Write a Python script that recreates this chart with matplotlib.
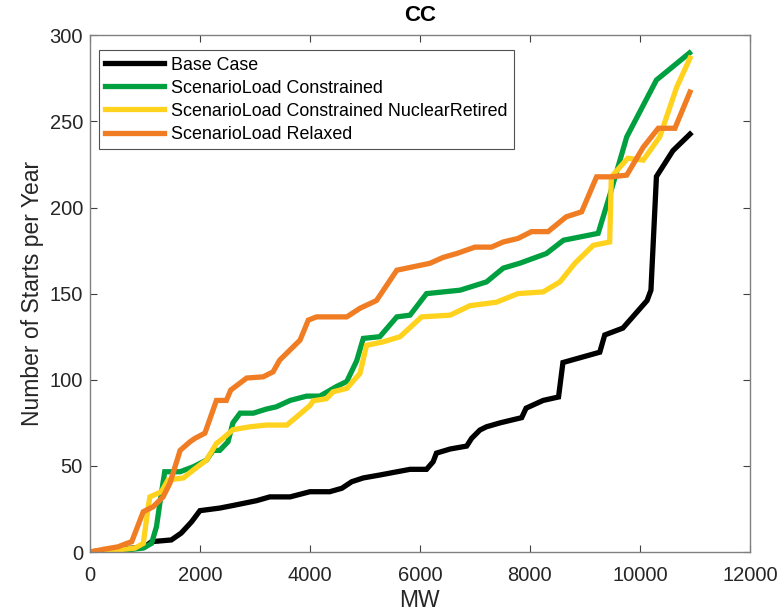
import matplotlib
matplotlib.use("Agg")
import matplotlib.pyplot as plt

plt.rcParams['font.family'] = ['Liberation Sans', 'DejaVu Sans']

labels = ["Base Case", "ScenarioLoad Constrained",
          "ScenarioLoad Constrained NuclearRetired", "ScenarioLoad Relaxed"]
colors = ["#000000", "#00A040", "#FFD21E", "#F07D23"]

base_x = [0, 400, 800, 1000, 1120, 1480, 1660, 1850, 2000, 2360, 2600, 3030, 3270, 3640,
          4000, 4360, 4580, 4760, 4970, 5270, 5820, 6120, 6240, 6300, 6550, 6850, 6940,
          7090, 7210, 7460, 7850, 7930, 8240, 8520, 8600, 9270, 9360, 9690, 10130, 10200,
          10300, 10600, 10910]
base_y = [0, 1.5, 2.3, 3, 6, 7, 11, 17.6, 24, 25.5, 27, 29.8, 32, 32,
          35, 35, 37, 40.8, 43, 44.7, 48, 48, 52.4, 57.4, 59.8, 61.5, 66,
          70.8, 72.7, 75, 78, 83.5, 88, 90, 110, 116, 126, 130, 146, 152,
          218, 233, 242.6]

con_x = [0, 500, 670, 970, 1120, 1210, 1270, 1360, 1640, 1880, 2120, 2240, 2360, 2510,
         2600, 2730, 2970, 3210, 3390, 3640, 3940, 4180, 4480, 4670, 4850, 4970, 5270,
         5580, 5820, 6120, 6730, 7210, 7515, 7820, 8300, 8610, 9240, 9460, 9760, 10300,
         10900]
con_y = [0, 1.2, 1.2, 2.3, 5, 14.7, 28, 46.6, 46.6, 49.5, 53.4, 59, 59, 64,
         75, 80.6, 80.6, 83, 84.3, 88, 90.5, 90.5, 96, 99, 111, 124, 125,
         136.5, 137.5, 150, 152, 156.8, 164.8, 167.7, 173.3, 181, 185, 208, 241, 274,
         289.7]

nuc_x = [0, 500, 820, 970, 1060, 1090, 1300, 1420, 1700, 1880, 2120, 2300, 2420, 2600,
         2910, 3210, 3580, 3760, 4000, 4060, 4300, 4420, 4670, 4910, 5030, 5330, 5640,
         6030, 6550, 6910, 7390, 7780, 8240, 8545, 8820, 9150, 9450, 9480, 9780, 10060,
         10360, 10670, 10910]
nuc_y = [0, 1.2, 2.3, 5, 26, 32, 35, 41.8, 43, 47.6, 53.4, 63, 66, 71,
         72.7, 73.7, 73.7, 78.5, 85, 87.8, 89, 93, 95, 103.7, 120, 122, 125,
         136.5, 137.5, 143, 145, 150, 151, 156.8, 167.7, 178, 180, 217.8, 228.6, 227.5,
         241, 270, 286.7]

rel_x = [0, 270, 510, 670, 760, 970, 1150, 1330, 1455, 1640, 1820, 1910, 2090, 2300,
         2480, 2560, 2850, 3150, 3330, 3450, 3820, 3970, 4120, 4670, 4910, 5210, 5580,
         6180, 6420, 6670, 7000, 7300, 7515, 7780, 8030, 8330, 8660, 8940, 9212, 9485,
         9760, 10060, 10333, 10636, 10909]
rel_y = [0, 1.7, 3, 5, 6, 23.4, 26.3, 32, 40, 59, 64, 66, 69, 88,
         88, 94, 101, 101.7, 104.6, 111.4, 123, 134.6, 136.5, 136.5, 141.5, 146, 163.6,
         167.6, 171, 173.3, 177, 177, 180, 182, 186, 186, 194.6, 197.5, 217.8, 217.8,
         218.8, 235, 246, 246, 267]

series = [(base_x, base_y), (con_x, con_y), (nuc_x, nuc_y), (rel_x, rel_y)]

fig = plt.figure(figsize=(7.82, 6.13), dpi=100)
ax = fig.add_axes([0.115, 0.0995, 0.844, 0.843])

for (xs, ys), c, lab in zip(series, colors, labels):
    ax.plot(xs, ys, color=c, lw=3.8, label=lab, solid_joinstyle='miter')

ax.set_xlim(0, 12000)
ax.set_ylim(0, 300)
ax.set_xticks(range(0, 12001, 2000))
ax.set_yticks(range(0, 301, 50))

textc = "#262626"
for s in ax.spines.values():
    s.set_color("#808080")
    s.set_linewidth(1.0)
ax.tick_params(direction='in', length=5, width=0.8, color="#404040",
               labelsize=14.5, labelcolor=textc, top=True, right=True)
ax.tick_params(axis='x', pad=10)
ax.tick_params(axis='y', pad=5)

ax.set_xlabel("MW", fontsize=16.5, color=textc, labelpad=3)
ax.set_ylabel("Number of Starts per Year", fontsize=16.5, color=textc, labelpad=4)
ax.set_title("CC", fontsize=16, fontweight='bold', color="#000000", pad=10)

leg = ax.legend(loc='upper left', bbox_to_anchor=(0.0136, 0.971), fontsize=12.9,
                frameon=True, fancybox=False, edgecolor="#262626", handlelength=3.3,
                handletextpad=0.4, borderpad=0.35, labelspacing=0.34,
                borderaxespad=0.0)
leg.get_frame().set_linewidth(0.8)
for t in leg.get_texts():
    t.set_color("#000000")

fig.savefig("out.png", dpi=100)
